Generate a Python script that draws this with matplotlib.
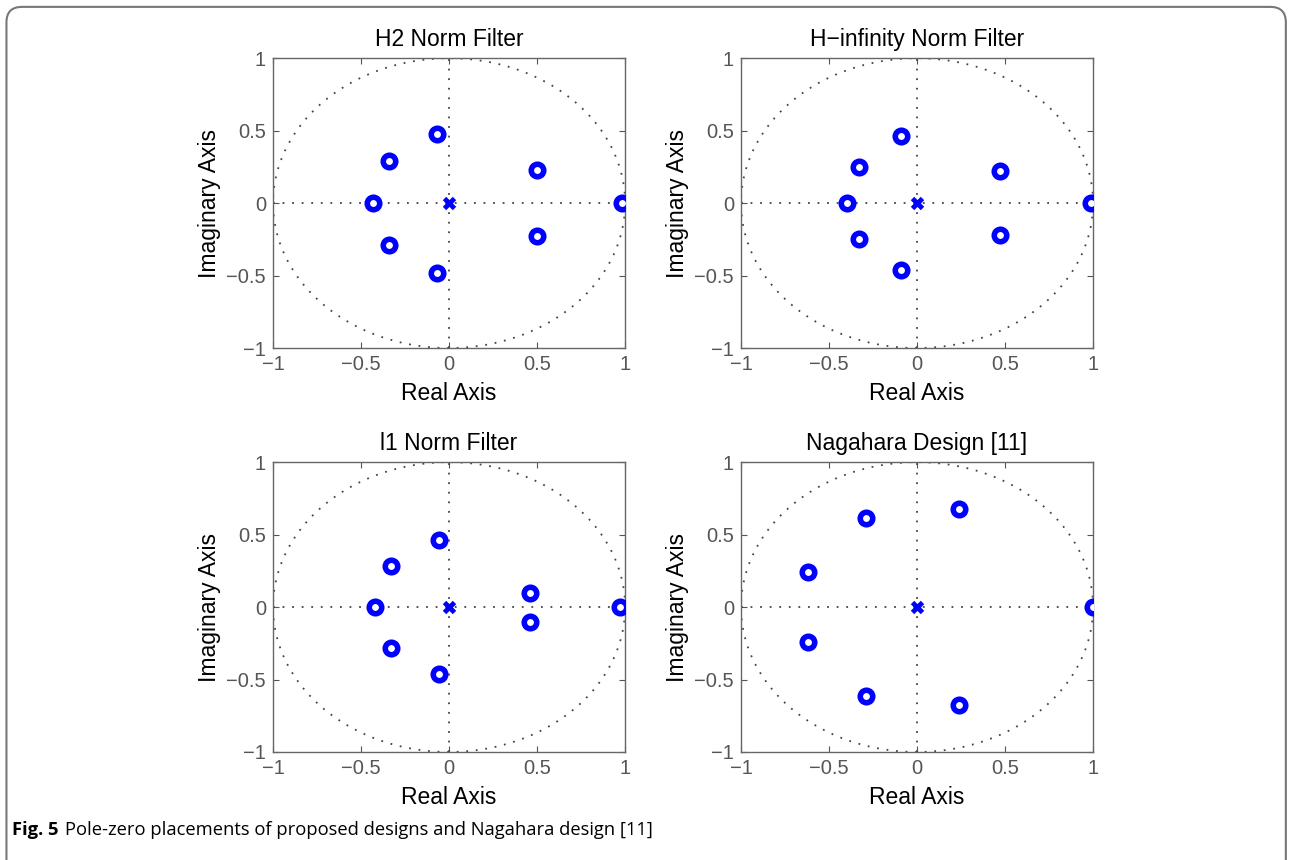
"""
Pole-zero maps of four filter designs
"""
import matplotlib.pyplot as plt
import numpy as np
from matplotlib.patches import FancyBboxPatch

titles = ['H2 Norm Filter', 'H\u2212infinity Norm Filter',
          'l1 Norm Filter', 'Nagahara Design [11]']

# zeros (real, imag)
h2_re = [-0.43, -0.34, -0.34, -0.07, -0.07, 0.50, 0.50, 0.98]
h2_im = [0.0, 0.29, -0.29, 0.48, -0.48, 0.23, -0.23, 0.0]

hinf_re = [-0.40, -0.33, -0.33, -0.09, -0.09, 0.47, 0.47, 0.99]
hinf_im = [0.0, 0.25, -0.25, 0.46, -0.46, 0.22, -0.22, 0.0]

l1_re = [-0.42, -0.33, -0.33, -0.06, -0.06, 0.46, 0.46, 0.97]
l1_im = [0.0, 0.28, -0.28, 0.465, -0.465, 0.10, -0.10, 0.0]

nag_re = [-0.62, -0.62, -0.29, -0.29, 0.24, 0.24, 1.0]
nag_im = [0.24, -0.24, 0.615, -0.615, 0.675, -0.675, 0.0]

# all poles sit at the origin
pole_re = [0.0]
pole_im = [0.0]

zeros = [(h2_re, h2_im), (hinf_re, hinf_im), (l1_re, l1_im), (nag_re, nag_im)]

plt.rcParams['font.family'] = ['Liberation Sans', 'DejaVu Sans']

fig = plt.figure(figsize=(12.91, 8.6), dpi=100)

# outer frame with rounded top corners (open at the bottom)
frame = FancyBboxPatch((0.005, -0.05), 0.991, 1.042,
                       boxstyle='round,pad=0,rounding_size=0.012',
                       transform=fig.transFigure, fill=False,
                       edgecolor='#777777', linewidth=1.5,
                       mutation_aspect=1.5)
fig.patches.append(frame)

lefts = [0.2115, 0.574]
bottoms = [0.5953, 0.1256]
w, h = 0.2727, 0.337

gray = '#555555'
dots = (0, (1, 4.3))
theta = np.linspace(0, 2 * np.pi, 400)

for i, (re, im) in enumerate(zeros):
    ax = fig.add_axes([lefts[i % 2], bottoms[i // 2], w, h])
    ax.plot(np.cos(theta), np.sin(theta), color='#444444', lw=1.3,
            linestyle=dots)
    ax.plot([-1, 1], [0, 0], color='#444444', lw=1.3, linestyle=dots)
    ax.plot([0, 0], [-1, 1], color='#444444', lw=1.3, linestyle=dots)
    ax.plot(re, im, 'o', ms=9, mew=4, mec='blue', mfc='white',
            linestyle='none', zorder=5)
    ax.plot(pole_re, pole_im, 'x', ms=7, mew=3.5, color='blue', zorder=5)

    ax.set_xlim(-1, 1)
    ax.set_ylim(-1, 1)
    ax.set_xticks([-1, -0.5, 0, 0.5, 1])
    ax.set_yticks([-1, -0.5, 0, 0.5, 1])
    ax.set_xticklabels(['\u22121', '\u22120.5', '0', '0.5', '1'])
    ax.set_yticklabels(['\u22121', '\u22120.5', '0', '0.5', '1'])
    ax.tick_params(direction='in', length=4, width=0.8, colors=gray,
                   labelsize=14.5, top=True, right=True, pad=5)
    for sp in ax.spines.values():
        sp.set_color('#666666')
        sp.set_linewidth(1.0)
    ax.set_title(titles[i], fontsize=16.5, pad=9)
    ax.set_xlabel('Real Axis', fontsize=16.5, labelpad=6)
    ax.set_ylabel('Imaginary Axis', fontsize=16.5, labelpad=4)

fig.text(0.0095, 0.029, 'Fig. 5', fontsize=13.2, fontweight='bold',
         family=['Open Sans', 'DejaVu Sans'], va='baseline')
fig.text(0.0505, 0.029,
         'Pole-zero placements of proposed designs and Nagahara design [11]',
         fontsize=13.2, family=['Open Sans', 'DejaVu Sans'], va='baseline')

fig.savefig('out.png', dpi=100)
